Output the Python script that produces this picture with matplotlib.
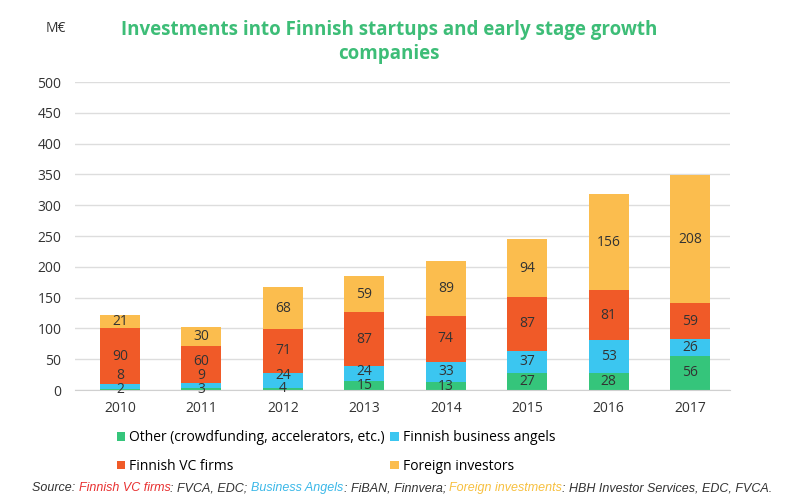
import matplotlib.pyplot as plt
from matplotlib.offsetbox import TextArea, HPacker, AnchoredOffsetbox

years = ["2010", "2011", "2012", "2013", "2014", "2015", "2016", "2017"]
other = [2, 3, 4, 15, 13, 27, 28, 56]
angels = [8, 9, 24, 24, 33, 37, 53, 26]
vc_firms = [90, 60, 71, 87, 74, 87, 81, 59]
foreign = [21, 30, 68, 59, 89, 94, 156, 208]

series = [
    ("Other (crowdfunding, accelerators, etc.)", other, "#35c57b"),
    ("Finnish business angels", angels, "#3bc6f0"),
    ("Finnish VC firms", vc_firms, "#f05a28"),
    ("Foreign investors", foreign, "#fbbd4e"),
]

plt.rcParams['font.family'] = ['Open Sans', 'DejaVu Sans']

fig = plt.figure(figsize=(8, 4.94), dpi=100)
ax = fig.add_axes([0.094, 0.2105, 0.8185, 0.6235])

x = list(range(len(years)))
bottoms = [0] * len(years)
last_label = [-100] * len(years)
handles = []
for name, vals, color in series:
    h = ax.bar(x, vals, 0.49, bottom=bottoms, color=color, label=name, zorder=2)
    handles.append(h)
    for i, v in enumerate(vals):
        y = bottoms[i] + v / 2
        # push tiny segment labels up so they don't sit on top of each other
        y = max(y, last_label[i] + 22)
        last_label[i] = y
        ax.text(i, y, str(v), ha="center", va="center", fontsize=10,
                color="#333333", zorder=3)
    bottoms = [b + v for b, v in zip(bottoms, vals)]

ax.set_xlim(-0.55, 7.49)
ax.set_ylim(0, 500)
ax.set_yticks(range(0, 501, 50))
ax.set_xticks(x)
ax.set_xticklabels(years)
ax.tick_params(length=0, labelsize=10, colors="#333333")
ax.tick_params(axis="y", pad=10)
ax.tick_params(axis="x", pad=8)
ax.grid(axis="y", color="#dddddd", linewidth=1, zorder=0)
for s in ["top", "right", "left"]:
    ax.spines[s].set_visible(False)
ax.spines["bottom"].set_color("#d0d0d0")

fig.text(0.07, 0.943, "M€", fontsize=10, color="#333333", ha="center", va="center")
fig.text(0.486, 0.915, "Investments into Finnish startups and early stage growth\ncompanies",
         fontsize=13.5, fontweight="bold", color="#3dbd77", ha="center", va="center",
         linespacing=1.3)

# legend filled column-wise, so reorder to read row by row
order = [0, 2, 1, 3]
fig.legend([handles[k] for k in order], [series[k][0] for k in order], ncol=2,
           loc="center", bbox_to_anchor=(0.42, 0.085), frameon=False, fontsize=10,
           handlelength=0.6, handleheight=0.6, handletextpad=0.3,
           columnspacing=0.4, labelspacing=1.0)

parts = [
    ("Source: ", "#333333"),
    ("Finnish VC firms", "#e83030"),
    (": FVCA, EDC; ", "#333333"),
    ("Business Angels", "#3bb8e8"),
    (": FiBAN, Finnvera; ", "#333333"),
    ("Foreign investments", "#f7c040"),
    (": HBH Investor Services, EDC, FVCA.", "#333333"),
]
boxes = [TextArea(t, textprops=dict(color=c, fontsize=9, style="italic",
                                    family="Liberation Sans"))
         for t, c in parts]
pack = HPacker(children=boxes, align="baseline", pad=0, sep=0)
anchored = AnchoredOffsetbox(loc="lower left", child=pack, pad=0, frameon=False,
                             bbox_to_anchor=(0.04, 0.0),
                             bbox_transform=fig.transFigure, borderpad=0)
fig.add_artist(anchored)

fig.savefig("out.png", dpi=100)
